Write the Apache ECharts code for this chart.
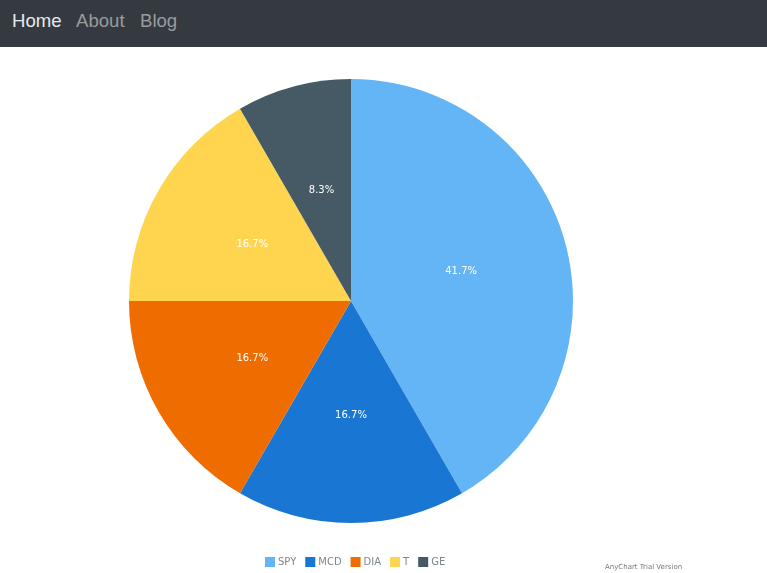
<!DOCTYPE html>
<html>
<head>
<meta charset="utf-8">
<script src="https://cdn.jsdelivr.net/npm/echarts@6/dist/echarts.min.js"></script>
<style>
html,body{margin:0;padding:0;background:#fff;overflow:hidden;}
#nav{position:absolute;left:0;top:0;width:767px;height:47px;background:#343a40;font-family:"Liberation Sans",Arial,sans-serif;font-size:18.6px;}
#nav span{position:absolute;top:10px;}
#chart{position:absolute;left:0;top:47px;width:767px;height:526px;}
</style>
</head>
<body>
<div id="nav"><span style="left:12px;color:#e8e9ea">Home</span><span style="left:76px;color:#9a9c9f">About</span><span style="left:140px;color:#9a9c9f">Blog</span></div>
<div id="chart"></div>
<script>
const categories = ['SPY', 'MCD', 'DIA', 'T', 'GE'];
const values = [5, 2, 2, 2, 1];
const colors = ['#64b5f6', '#1976d2', '#ef6c00', '#ffd54f', '#455a64'];

const chart = echarts.init(document.getElementById('chart'));
chart.setOption({
  animation: false,
  legend: {
    left: 260, top: 505,
    itemWidth: 10, itemHeight: 10, itemGap: 9,
    icon: 'rect',
    textStyle: { fontFamily: 'DejaVu Sans, Verdana, sans-serif', fontSize: 10, color: '#7c868e', padding: [0, 0, 0, -2] },
    data: categories
  },
  graphic: [{
    type: 'text', left: 605, top: 517,
    style: { text: 'AnyChart Trial Version', fontSize: 7, fill: '#777', fontFamily: 'DejaVu Sans, sans-serif' }
  }],
  series: [{
    type: 'pie',
    center: [351, 254],
    radius: [0, 222],
    startAngle: 90,
    clockwise: true,
    silent: true,
    data: categories.map((c, i) => ({ name: c, value: values[i], itemStyle: { color: colors[i] } })),
    label: {
      position: 'inside',
      formatter: p => p.percent.toFixed(1) + '%',
      color: '#fff',
      fontSize: 10,
      fontWeight: 500,
      fontFamily: 'DejaVu Sans, Verdana, sans-serif'
    },
    labelLine: { show: false }
  }]
});
</script>
</body>
</html>
